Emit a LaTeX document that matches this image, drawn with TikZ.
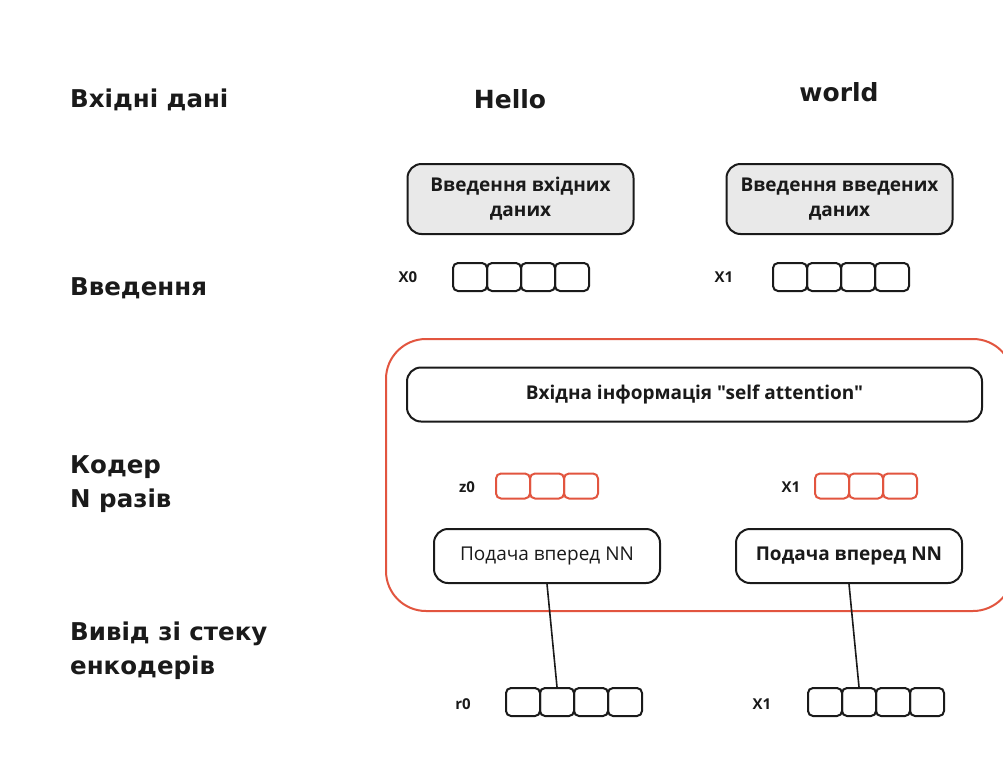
\documentclass[tikz,border=0pt]{standalone}
\usepackage{fontspec}
\setmainfont{Open Sans}[Ligatures=TeXOff]
\newfontfamily\labfont{DejaVu Sans}
\definecolor{frame}{HTML}{E2553F}
\definecolor{boxgray}{HTML}{E9E9E9}
\definecolor{ink}{HTML}{1A1A1A}
\tikzset{
  rowlabel/.style={anchor=west, font=\labfont\bfseries\fontsize{24.5}{34}\selectfont, align=left, text=ink, inner sep=0pt},
  word/.style={font=\labfont\bfseries\fontsize{25}{30}\selectfont, text=ink, inner sep=0pt},
  graybox/.style={draw=ink, line width=2pt, rounded corners=14pt, fill=boxgray, minimum width=226pt, minimum height=70pt, align=center, font=\bfseries\fontsize{19}{25}\selectfont, text=ink},
  plainbox/.style={draw=ink, line width=2pt, rounded corners=14pt, fill=white, minimum height=54pt, align=center, text=ink},
  cell/.style={draw=ink, line width=2pt, rounded corners=5pt, minimum width=34pt, minimum height=28pt, inner sep=0pt},
  redcell/.style={draw=frame, line width=2pt, rounded corners=5pt, minimum width=34pt, minimum height=25pt, inner sep=0pt},
  veclabel/.style={font=\bfseries\fontsize{15}{18}\selectfont, text=ink, inner sep=0pt},
  link/.style={draw=ink, line width=1.6pt}
}
\begin{document}
\begin{tikzpicture}[x=1pt, y=-1pt]
\useasboundingbox[fill=white] (0,0) rectangle (1003,771);

% row captions
\node[rowlabel] (capIn)  at (70,100) {Вхідні дані};
\node[rowlabel] (capEmb) at (70,288) {Введення};
\node[rowlabel] (capEnc) at (70,484) {Кодер\\N разів};
\node[rowlabel] (capOut) at (70,651) {Вивід зі стеку\\енкодерів};

% input words
\node[word] (hello) at (510,99) {Hello};
\node[word] (world) at (839,92) {world};

% embedding boxes
\node[graybox] (emb0) at (520.5,199) {Введення вхідних\\даних};
\node[graybox] (emb1) at (839.5,199) {Введення введених\\даних};

% embedding vectors
\node[veclabel] (lx0) at (408,277) {X0};
\foreach \i in {1,...,4}
  \node[cell] (x0c\i) at ({453+17+34*(\i-1)},277) {};
\node[veclabel] (lx1) at (724,277) {X1};
\foreach \i in {1,...,4}
  \node[cell] (x1c\i) at ({773+17+34*(\i-1)},277) {};

% encoder block
\draw[frame, line width=2pt, rounded corners=40pt] (386,339) rectangle (1013,611);
\node[plainbox, minimum width=575pt, font=\bfseries\fontsize{19}{22}\selectfont] (sa) at (694.5,394.5) {Вхідна інформація "self attention"};

\node[veclabel] (lz0) at (467,487) {z0};
\foreach \i in {1,...,3}
  \node[redcell] (z0c\i) at ({496+17+34*(\i-1)},486) {};
\node[veclabel] (lz1) at (791,487) {X1};
\foreach \i in {1,...,3}
  \node[redcell] (z1c\i) at ({815+17+34*(\i-1)},486) {};

\node[plainbox, minimum width=226pt, font=\fontsize{19}{22}\selectfont] (ff0) at (547,556) {Подача вперед NN};
\node[plainbox, minimum width=226pt, font=\bfseries\fontsize{19}{22}\selectfont] (ff1) at (849,556) {Подача вперед NN};

% encoder outputs
\node[veclabel] (lr0) at (463,704) {r0};
\foreach \i in {1,...,4}
  \node[cell] (r0c\i) at ({506+17+34*(\i-1)},702) {};
\node[veclabel] (lr1) at (762,704) {X1};
\foreach \i in {1,...,4}
  \node[cell] (r1c\i) at ({808+17+34*(\i-1)},702) {};

% connectors
\draw[link] (ff0.south) -- (r0c2.north);
\draw[link] (ff1.south) -- (r1c2.north);
\end{tikzpicture}
\end{document}
